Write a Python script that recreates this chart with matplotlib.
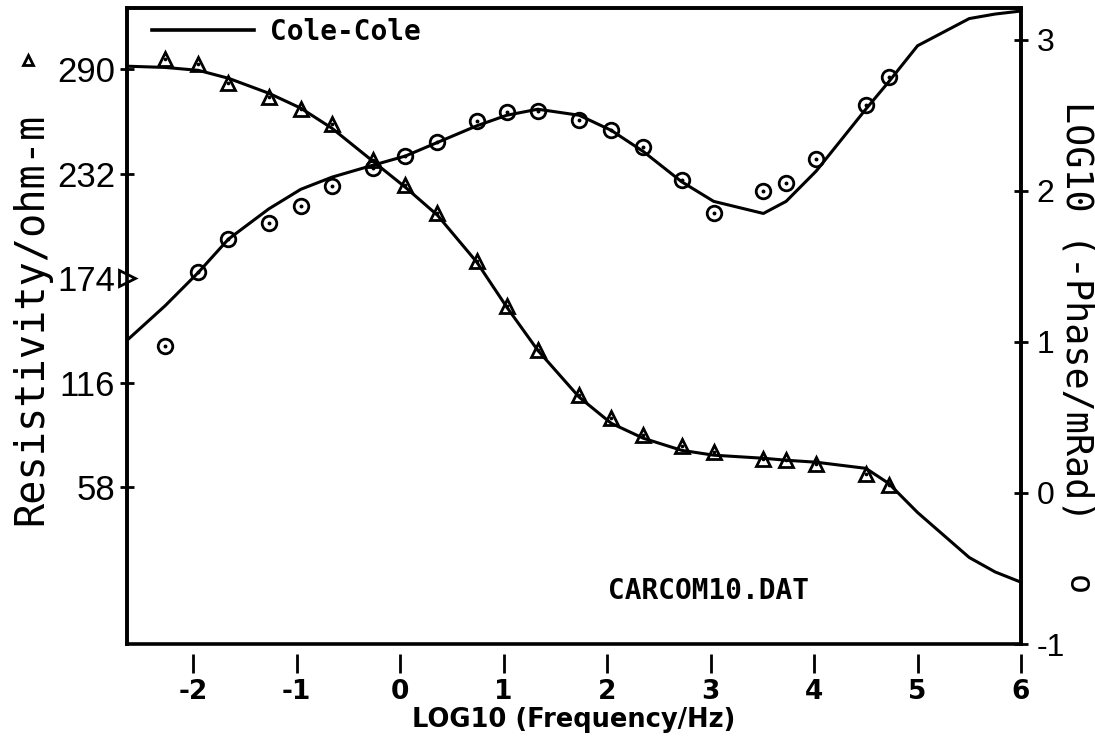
import matplotlib
matplotlib.use("Agg")
import matplotlib.pyplot as plt
from matplotlib.lines import Line2D

# ---------------- data ----------------
log_freq = [-2.27, -1.95, -1.66, -1.27, -0.96, -0.66, -0.26, 0.05, 0.36, 0.74, 1.03,
            1.33, 1.73, 2.04, 2.35, 2.72, 3.03, 3.51, 3.73, 4.02, 4.50, 4.72]
rho_obs = [295.5, 293.0, 282.2, 274.4, 268.0, 259.5, 239.8, 225.7, 210.0, 183.7, 158.7,
           134.3, 109.0, 96.6, 86.9, 81.0, 77.8, 73.8, 73.0, 70.8, 65.2, 59.4]
phase_obs = [0.97, 1.46, 1.68, 1.79, 1.90, 2.03, 2.15, 2.23, 2.32, 2.46, 2.52,
             2.53, 2.47, 2.40, 2.29, 2.07, 1.85, 2.00, 2.05, 2.21, 2.57, 2.75]

model_freq = [-2.64, -2.27, -1.95, -1.66, -1.27, -0.96, -0.66, -0.26, 0.05, 0.36, 0.74,
              1.03, 1.33, 1.73, 2.04, 2.35, 2.72, 3.03, 3.51, 3.73, 4.02, 4.50, 4.72,
              5.0, 5.5, 5.75, 6.0]
rho_model = [291.7, 291.0, 289.4, 285.0, 276.7, 268.4, 257.3, 238.8, 224.5, 209.0, 183.0,
             158.0, 134.0, 108.0, 93.5, 85.2, 78.5, 75.8, 74.1, 73.0, 71.9, 68.5, 60.2,
             44.0, 19.0, 11.0, 5.3]
phase_model = [1.01, 1.24, 1.46, 1.68, 1.88, 2.01, 2.09, 2.17, 2.23, 2.32, 2.43,
               2.50, 2.54, 2.50, 2.40, 2.26, 2.06, 1.93, 1.85, 1.93, 2.13, 2.54, 2.72,
               2.96, 3.14, 3.17, 3.19]

x_ticks = [-2, -1, 0, 1, 2, 3, 4, 5, 6]
x_tick_labels = ['-2', '-1', '0', '1', '2', '3', '4', '5', '6']
rho_ticks = [58, 116, 174, 232, 290]
rho_tick_labels = ['58', '116', '174', '232', '290']
phase_ticks = [-1, 0, 1, 2, 3]
phase_tick_labels = ['-1', '0', '1', '2', '3']
rho_marker_value = 174

# ---------------- figure ----------------
W, H = 1095, 742
fig = plt.figure(figsize=(W / 100, H / 100), dpi=100)
ax = fig.add_axes([127 / W, (H - 644) / H, (1021 - 127) / W, (644 - 8) / H])
ax.set_xlim(-2.64, 6.0)
ax.set_ylim(-29, 324)
ax2 = ax.twinx()
ax2.set_ylim(-1, 3.21)

lw = 2.2
ax.plot(model_freq, rho_model, color='black', lw=lw, label='Cole-Cole', zorder=3)
ax.plot(log_freq, rho_obs, linestyle='none', marker='^', ms=9.5, mfc='none',
        mec='black', mew=2.0, zorder=4)
ax.plot(log_freq, rho_obs, linestyle='none', marker='o', ms=1.6, color='black', zorder=5)

ax2.plot(model_freq, phase_model, color='black', lw=lw, zorder=3)
ax2.plot(log_freq, phase_obs, linestyle='none', marker='o', ms=10.5, mfc='none',
         mec='black', mew=2.0, zorder=4)
ax2.plot(log_freq, phase_obs, linestyle='none', marker='o', ms=1.8, color='black', zorder=5)

# marker on the left spine
ax.plot([ax.get_xlim()[0]], [rho_marker_value], marker='>', ms=11, mfc='white',
        mec='black', mew=2.0, clip_on=False, zorder=6)

# spines
for a in (ax, ax2):
    for s in a.spines.values():
        s.set_linewidth(2.6)
ax.spines['bottom'].set_position(('outward', 7))
ax.spines['bottom'].set_visible(False)

# x ticks
ax.set_xticks(x_ticks)
ax.set_xticklabels(x_tick_labels, fontfamily='DejaVu Sans', fontweight='bold', fontsize=19)
ax.tick_params(axis='x', direction='out', length=14, width=2.0, pad=4)

# left y ticks
ax.set_yticks(rho_ticks)
ax.set_yticklabels(rho_tick_labels, fontfamily='Liberation Sans', fontsize=25)
ax.tick_params(axis='y', direction='inout', length=10, width=2.0, pad=3.6)

# right y ticks
ax2.set_yticks(phase_ticks)
ax2.set_yticklabels(phase_tick_labels, fontfamily='Liberation Sans', fontsize=23)
ax2.tick_params(axis='y', direction='inout', length=10, width=2.0, pad=6.4)

# legend
leg = ax.legend(loc='center left', bbox_to_anchor=((152 - 127) / 894, 1 - (32 - 8) / 636),
                frameon=False, borderpad=0, borderaxespad=0, handlelength=3.67,
                handletextpad=0.56,
                prop={'family': 'DejaVu Sans Mono', 'size': 20, 'weight': 'bold'})
for h in leg.get_lines():
    h.set_linewidth(2.6)

# file name text
ax.text((709 - 127) / 894, 1 - (591 - 8) / 636, 'CARCOM10.DAT', transform=ax.transAxes,
        ha='center', va='center', fontfamily='DejaVu Sans Mono', fontweight='bold',
        fontsize=20)

# axis labels
fig.text(31 / W, 1 - 319 / H, 'Resistivity/ohm-m', rotation=90, ha='center', va='center',
         fontfamily='DejaVu Sans Mono', fontsize=29)
fig.add_artist(Line2D([28 / W], [1 - 60 / H], marker='^', ms=7.5, mfc='none', mec='black',
                      mew=2.0, linestyle='none', transform=fig.transFigure))
fig.text(1077 / W, 1 - 311 / H, 'LOG10 (-Phase/mRad)', rotation=270, ha='center',
         va='center', fontfamily='DejaVu Sans Mono', fontsize=26.5)
fig.text(1077 / W, 1 - 585 / H, 'o', rotation=270, ha='center', va='center',
         fontfamily='DejaVu Sans Mono', fontsize=24)
fig.text(((127 + 1021) / 2) / W, 1 - 720 / H, 'LOG10 (Frequency/Hz)', ha='center',
         va='center', fontfamily='DejaVu Sans', fontweight='bold', fontsize=18.5)

fig.savefig('out.png', dpi=100)
